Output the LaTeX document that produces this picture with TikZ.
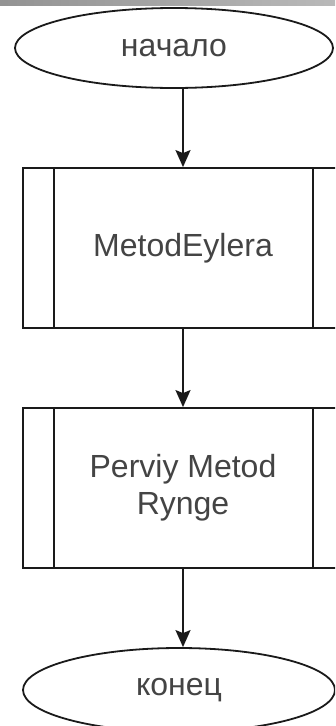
\documentclass[tikz,border=0pt]{standalone}
\usepackage{fontspec}
\setmainfont{Liberation Sans}
\usetikzlibrary{shapes.geometric,arrows.meta,calc}
\definecolor{txt}{HTML}{444444}
\definecolor{edge}{HTML}{1A1A1A}
\tikzset{
  term/.style={ellipse, draw=edge, line width=1.8pt, fill=white, text=txt, inner sep=0pt,
    font=\fontsize{32}{37}\selectfont},
  proc/.style={rectangle, draw=edge, line width=1.8pt, fill=white, text=txt, inner sep=0pt,
    minimum width=320pt, minimum height=160pt, align=center,
    font=\fontsize{32}{37}\selectfont},
  inner/.style={draw=edge, line width=1.8pt},
  arr/.style={draw=edge, line width=1.8pt, -{Stealth[length=17pt,width=15pt,inset=3pt]}}
}
\begin{document}
\begin{tikzpicture}[x=1pt,y=-1pt]
\useasboundingbox (0,0) rectangle (335,726);
\clip (0,0) rectangle (335,726);
\fill[white] (0,0) rectangle (335,726);
\shade[left color=gray!85, right color=gray!55] (0,0) rectangle (335,5);
\node[term, minimum width=318pt, minimum height=80pt] (start) at (174,48) {начало};
\node[proc] (m1) at (183,248) {MetodEylera};
\node[proc] (m2) at (183,488) {Perviy Metod\\Rynge};
\node[term, minimum width=312pt, minimum height=84pt] (end) at (179,690) {конец};
\draw[inner] ($(m1.north west)+(32,0)$) -- ($(m1.south west)+(32,0)$);
\draw[inner] ($(m1.north east)+(-31,0)$) -- ($(m1.south east)+(-31,0)$);
\draw[inner] ($(m2.north west)+(32,0)$) -- ($(m2.south west)+(32,0)$);
\draw[inner] ($(m2.north east)+(-31,0)$) -- ($(m2.south east)+(-31,0)$);
\draw[arr] (m1.north |- start.south) -- (m1.north);
\draw[arr] (m1.south) -- (m2.north);
\draw[arr] (m2.south) -- (m2.south |- end.north);
\end{tikzpicture}
\end{document}
